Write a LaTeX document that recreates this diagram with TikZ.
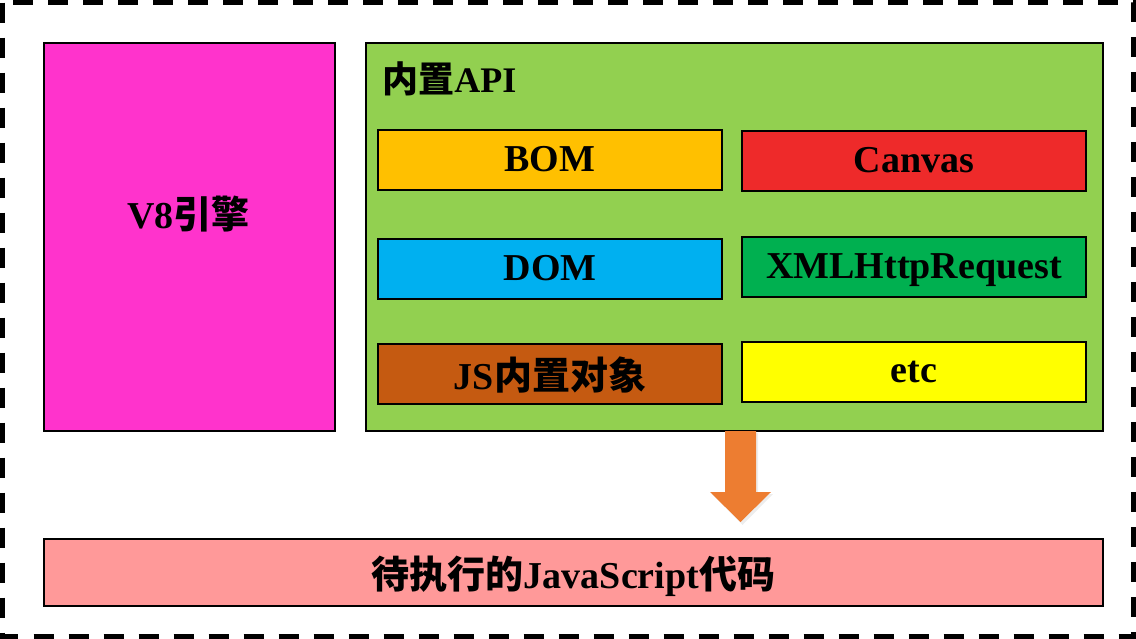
\documentclass[tikz,border=0pt]{standalone}
\usepackage{fontspec}
\setmainfont{Liberation Serif}
\newfontfamily\cjk{Noto Sans CJK SC}
\newcommand{\zh}[1]{{\cjk\bfseries #1}}
\definecolor{cmag}{HTML}{FF33CC}
\definecolor{cgreen}{HTML}{92D050}
\definecolor{corange}{HTML}{FFC000}
\definecolor{cred}{HTML}{EE2A2A}
\definecolor{cblue}{HTML}{00B0F0}
\definecolor{cdgreen}{HTML}{00B050}
\definecolor{cbrown}{HTML}{C55A11}
\definecolor{cyellow}{HTML}{FFFF00}
\definecolor{cpink}{HTML}{FF9999}
\definecolor{carrow}{HTML}{ED7D31}
\begin{document}
\begin{tikzpicture}[x=0.75pt,y=-0.75pt,
  box/.style={draw=black,line width=1.5pt},
  lbl/.style={font=\bfseries\fontsize{28.5}{32}\selectfont},
  apibox/.style={box,minimum width=258pt,minimum height=45pt,inner sep=0pt,lbl,text depth=0.2ex}]
\useasboundingbox (0,0) rectangle (1136,639);
\draw[line width=3.75pt,dash pattern=on 15pt off 11.25pt] (2.5,2.5) rectangle (1133.5,636.5);
\node[box,fill=cmag,minimum width=218.25pt,minimum height=291pt,inner sep=0pt,anchor=north west] (v8) at (43,42) {};
\node[lbl,inner sep=0pt] (v8lbl) at (188.5,214) {V8\zh{引擎}};
\node[box,fill=cgreen,minimum width=552.75pt,minimum height=291pt,inner sep=0pt,anchor=north west] (api) at (365,42) {};
\node[anchor=west,font=\bfseries\fontsize{27}{30}\selectfont,inner sep=0pt] (apititle) at (382,79) {\zh{内置}API};
\node[apibox,fill=corange,anchor=north west] (bom) at (377,129) {BOM};
\node[apibox,fill=cred,anchor=north west] (canvas) at (741,130) {Canvas};
\node[apibox,fill=cblue,anchor=north west] (dom) at (377,238) {DOM};
\node[apibox,fill=cdgreen,anchor=north west] (xhr) at (741,236) {XMLHttpRequest};
\node[apibox,fill=cbrown,anchor=north west] (js) at (377,343) {JS\zh{内置对象}};
\node[apibox,fill=cyellow,anchor=north west] (etc) at (741,341) {etc};
\node[box,fill=cpink,minimum width=794.25pt,minimum height=50.25pt,inner sep=0pt,anchor=north west,lbl,text depth=0.2ex] (code) at (43,538) {\zh{待执行的}JavaScript\zh{代码}};
\fill[black,opacity=0.07] (727,433) -- (758,433) -- (758,494) -- (773,494) -- (742.5,525) -- (712,494) -- (727,494) -- cycle;
\fill[carrow] (725,431) -- (756,431) -- (756,492) -- (771,492) -- (740.5,522) -- (710,492) -- (725,492) -- cycle;
\end{tikzpicture}
\end{document}
